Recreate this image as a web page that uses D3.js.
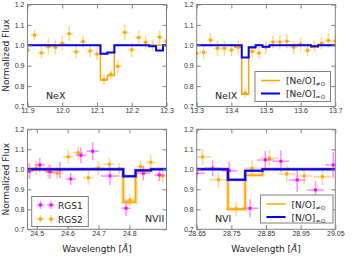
<!DOCTYPE html>
<html>
<head>
<meta charset="utf-8">
<script src="https://cdn.jsdelivr.net/npm/d3@7"></script>
<style>
  body { margin: 0; background: #fff; }
  svg { font-family: "DejaVu Sans", sans-serif; }
</style>
</head>
<body>
<div id="chart"></div>
<script>
var width = 354;
var height = 258;

// ---- data ----
var yTicks = [0.7, 0.8, 0.9, 1.0, 1.1, 1.2];

// Ne X
var neXTicks = [11.9, 12.0, 12.1, 12.2, 12.3];
var neXWave = [11.90, 11.92, 11.94, 11.96, 11.98, 12.00, 12.02, 12.04, 12.06, 12.08, 12.10,
               12.12, 12.14, 12.16, 12.18, 12.20, 12.22, 12.24, 12.26, 12.28, 12.30];
var neXFlux = [0.977, 1.05, 0.963, 0.993, 0.99, 1.01, 1.057, 0.968, 1.018, 0.972, 0.957,
               0.832, 0.858, 0.897, 1.063, 0.978, 1.038, 1.015, 1.0, 1.04, 1.02];
var neXErr = [0.03, 0.025, 0.03, 0.04, 0.035, 0.035, 0.035, 0.03, 0.03, 0.03, 0.03,
              0.025, 0.02, 0.03, 0.04, 0.035, 0.035, 0.035, 0.03, 0.035, 0.035];
var neXEdges = [11.90, 12.11, 12.13, 12.15, 12.25, 12.27, 12.29, 12.30];
var neXModelOff = [1.0, 0.83, 0.852, 1.0, 1.0, 1.0, 1.0];
var neXModelSun = [1.0, 0.958, 0.965, 1.0, 0.995, 0.975, 1.0];

// Ne IX
var neIXTicks = [13.3, 13.4, 13.5, 13.6, 13.7];
var neIXWave = [13.30, 13.32, 13.34, 13.36, 13.38, 13.40, 13.42, 13.44, 13.46, 13.48, 13.50,
                13.52, 13.54, 13.56, 13.58, 13.60, 13.62, 13.64, 13.66, 13.68, 13.70];
var neIXFlux = [0.961, 0.966, 1.026, 0.985, 0.985, 0.977, 0.99, 0.765, 0.97, 0.962, 0.99,
                1.016, 1.016, 1.02, 0.99, 1.005, 0.975, 0.995, 1.01, 1.023, 1.02];
var neIXErr = [0.03, 0.035, 0.035, 0.04, 0.035, 0.03, 0.035, 0.02, 0.03, 0.03, 0.03,
               0.03, 0.035, 0.035, 0.03, 0.035, 0.03, 0.03, 0.03, 0.035, 0.03];
var neIXEdges = [13.30, 13.41, 13.43, 13.45, 13.47, 13.49, 13.51, 13.63, 13.65, 13.70];
var neIXModelOff = [1.0, 0.99, 0.76, 0.985, 1.0, 0.99, 1.0, 0.99, 1.0];
var neIXModelSun = [1.0, 1.0, 0.94, 0.99, 1.0, 0.993, 1.0, 0.995, 1.0];

// N VII
var nVIITicks = [24.5, 24.6, 24.7, 24.8];
var nVIIRgs1Wave = [24.476, 24.51, 24.543, 24.575, 24.61, 24.643, 24.681, 24.737, 24.789, 24.845, 24.897];
var nVIIRgs1Flux = [0.99, 1.022, 0.988, 0.997, 0.952, 1.07, 1.09, 0.967, 0.805, 0.98, 0.972];
var nVIIRgs1XErr = [0.015, 0.017, 0.017, 0.017, 0.017, 0.017, 0.02, 0.03, 0.015, 0.02, 0.017];
var nVIIRgs1Err = [0.04, 0.035, 0.035, 0.04, 0.03, 0.04, 0.045, 0.045, 0.04, 0.035, 0.03];
var nVIIRgs2Wave = [24.498, 24.537, 24.566, 24.602, 24.634, 24.667, 24.699, 24.735, 24.767, 24.802, 24.836, 24.869, 24.908];
var nVIIRgs2Flux = [1.005, 0.99, 0.98, 1.063, 1.083, 0.958, 1.007, 1.025, 1.003, 0.847, 1.013, 1.035, 0.967];
var nVIIRgs2Err = [0.035, 0.035, 0.03, 0.035, 0.035, 0.035, 0.035, 0.035, 0.03, 0.03, 0.03, 0.035, 0.035];
var nVIIEdges = [24.47, 24.78, 24.82, 24.87, 24.92];
var nVIIModelOff = [1.0, 0.835, 0.99, 1.0];
var nVIIModelSun = [1.0, 0.965, 0.995, 1.0];

// N VI
var nVITicks = [28.65, 28.75, 28.85, 28.95, 29.05];
var nVIRgs1Wave = [28.65, 28.696, 28.744, 28.804, 28.848, 28.893, 28.94, 28.993, 29.044];
var nVIRgs1Flux = [0.98, 1.005, 0.993, 0.805, 1.047, 1.04, 0.947, 0.897, 1.022];
var nVIRgs1Err = [0.04, 0.04, 0.045, 0.045, 0.045, 0.055, 0.06, 0.045, 0.065];
var nVIRgs2Wave = [28.667, 28.713, 28.764, 28.81, 28.86, 28.91, 28.96, 29.013];
var nVIRgs2Flux = [1.062, 0.948, 0.802, 1.005, 1.055, 0.977, 0.967, 0.963];
var nVIRgs2Err = [0.04, 0.04, 0.035, 0.04, 0.04, 0.04, 0.04, 0.045];
var nVIEdges = [28.65, 28.74, 28.79, 28.84, 29.05];
var nVIModelOff = [1.0, 0.80, 0.97, 1.0];
var nVIModelSun = [1.0, 0.948, 0.993, 1.0];

var orange = '#ffa500';
var magenta = '#ff00ff';
var blue = '#0000ff';

function pts(w, f, xe, ye) {
    return w.map(function (d, i) {
        return { x: d, y: f[i], xe: Array.isArray(xe) ? xe[i] : xe, ye: ye[i] };
    });
}

var panels = [
    { left: 27.5, top: 4.5, w: 139, h: 102, domain: [11.9, 12.3], ticks: neXTicks, fmt: '.1f',
      label: 'NeX', labelX: 46, labelY: 99,
      series: [{ color: orange, data: pts(neXWave, neXFlux, 0.01, neXErr) }],
      edges: neXEdges, off: neXModelOff, sun: neXModelSun, halo: false },
    { left: 196.7, top: 4.5, w: 138.6, h: 102, domain: [13.3, 13.7], ticks: neIXTicks, fmt: '.1f',
      label: 'NeIX', labelX: 215, labelY: 99,
      series: [{ color: orange, data: pts(neIXWave, neIXFlux, 0.01, neIXErr) }],
      edges: neIXEdges, off: neIXModelOff, sun: neIXModelSun, halo: false },
    { left: 27.5, top: 129.3, w: 139, h: 100, domain: [24.47, 24.92], ticks: nVIITicks, fmt: '.1f',
      label: 'NVII', labelX: 145, labelY: 222,
      series: [{ color: orange, data: pts(nVIIRgs2Wave, nVIIRgs2Flux, 0.017, nVIIRgs2Err) },
               { color: magenta, data: pts(nVIIRgs1Wave, nVIIRgs1Flux, nVIIRgs1XErr, nVIIRgs1Err) }],
      edges: nVIIEdges, off: nVIIModelOff, sun: nVIIModelSun, halo: true },
    { left: 196.7, top: 129.3, w: 138.6, h: 100, domain: [28.65, 29.05], ticks: nVITicks, fmt: '.2f',
      label: 'NVI', labelX: 215, labelY: 222,
      series: [{ color: orange, data: pts(nVIRgs2Wave, nVIRgs2Flux, 0.025, nVIRgs2Err) },
               { color: magenta, data: pts(nVIRgs1Wave, nVIRgs1Flux, 0.024, nVIRgs1Err) }],
      edges: nVIEdges, off: nVIModelOff, sun: nVIModelSun, halo: true }
];

var svg = d3.select('#chart').append('svg')
    .attr('width', width)
    .attr('height', height);

panels.forEach(function (p, pi) {
    var xScale = d3.scaleLinear().domain(p.domain).range([p.left, p.left + p.w]);
    var yScale = d3.scaleLinear().domain([0.7, 1.2]).range([p.top + p.h, p.top]);

    var clipId = 'clip' + pi;
    svg.append('clipPath').attr('id', clipId)
        .append('rect')
        .attr('x', p.left).attr('y', p.top).attr('width', p.w).attr('height', p.h);

    var plot = svg.append('g').attr('clip-path', 'url(#' + clipId + ')');

    // error bars + points
    p.series.forEach(function (s) {
        var g = plot.append('g');
        var pt = g.selectAll('.pt').data(s.data).enter().append('g');
        pt.append('line')
            .attr('x1', d => xScale(d.x - d.xe)).attr('x2', d => xScale(d.x + d.xe))
            .attr('y1', d => yScale(d.y)).attr('y2', d => yScale(d.y))
            .attr('stroke', s.color).attr('stroke-opacity', 0.45).attr('stroke-width', 1.5);
        pt.append('line')
            .attr('x1', d => xScale(d.x)).attr('x2', d => xScale(d.x))
            .attr('y1', d => yScale(d.y - d.ye)).attr('y2', d => yScale(d.y + d.ye))
            .attr('stroke', s.color).attr('stroke-opacity', 0.45).attr('stroke-width', 1.5);
        pt.append('rect')
            .attr('x', d => xScale(d.x) - 1.5).attr('y', d => yScale(d.y) - 1.5)
            .attr('width', 3).attr('height', 3)
            .attr('fill', s.color);
    });

    // model steps
    var line = d3.line()
        .x(d => xScale(d[0]))
        .y(d => yScale(d[1]))
        .curve(d3.curveStepAfter);
    var offPts = p.off.map((v, i) => [p.edges[i], v]);
    offPts.push([p.edges[p.edges.length - 1], p.off[p.off.length - 1]]);
    var sunPts = p.sun.map((v, i) => [p.edges[i], v]);
    sunPts.push([p.edges[p.edges.length - 1], p.sun[p.sun.length - 1]]);

    if (p.halo) {
        plot.append('path').attr('d', line(offPts))
            .attr('fill', 'none').attr('stroke', orange)
            .attr('stroke-opacity', 0.35).attr('stroke-width', 4);
    }
    plot.append('path').attr('d', line(offPts))
        .attr('fill', 'none').attr('stroke', orange).attr('stroke-width', 1.5);
    if (p.halo) {
        plot.append('path').attr('d', line(sunPts))
            .attr('fill', 'none').attr('stroke', blue)
            .attr('stroke-opacity', 0.35).attr('stroke-width', 3);
    }
    plot.append('path').attr('d', line(sunPts))
        .attr('fill', 'none').attr('stroke', blue).attr('stroke-width', 2);

    // frame
    svg.append('rect')
        .attr('x', p.left).attr('y', p.top).attr('width', p.w).attr('height', p.h)
        .attr('fill', 'none').attr('stroke', '#808080').attr('stroke-width', 1);

    // axes, ticks pointing in
    var xAxis = d3.axisBottom(xScale).tickValues(p.ticks).tickFormat(d3.format(p.fmt))
        .tickSizeInner(-4).tickSizeOuter(0).tickPadding(2);
    var gx = svg.append('g').attr('transform', 'translate(0,' + (p.top + p.h) + ')').call(xAxis);
    var xTop = d3.axisTop(xScale).tickValues(p.ticks).tickFormat('')
        .tickSizeInner(-4).tickSizeOuter(0);
    var gxt = svg.append('g').attr('transform', 'translate(0,' + p.top + ')').call(xTop);

    var yAxis = d3.axisLeft(yScale).tickValues(yTicks).tickFormat(d3.format('.1f'))
        .tickSizeInner(-4).tickSizeOuter(0).tickPadding(3);
    var gy = svg.append('g').attr('transform', 'translate(' + p.left + ',0)').call(yAxis);
    var yRight = d3.axisRight(yScale).tickValues(yTicks).tickFormat('')
        .tickSizeInner(-4).tickSizeOuter(0);
    var gyr = svg.append('g').attr('transform', 'translate(' + (p.left + p.w) + ',0)').call(yRight);

    [gx, gxt, gy, gyr].forEach(function (g) {
        g.select('.domain').remove();
        g.selectAll('.tick line').attr('stroke', '#808080');
        g.selectAll('.tick text').attr('fill', '#333').style('font-size', '7px');
    });

    svg.append('text')
        .attr('x', p.labelX).attr('y', p.labelY)
        .attr('fill', '#222').style('font-size', '9.5px')
        .text(p.label);

    if (pi % 2 === 0) {
        svg.append('text')
            .attr('transform', 'translate(9,' + (p.top + p.h / 2) + ') rotate(-90)')
            .attr('text-anchor', 'middle')
            .attr('fill', '#222').style('font-size', '9px')
            .text('Normalized Flux');
    }
    if (pi >= 2) {
        var wl = svg.append('text')
            .attr('x', p.left + p.w / 2).attr('y', 252)
            .attr('text-anchor', 'middle')
            .attr('fill', '#222').style('font-size', '9px');
        wl.append('tspan').text('Wavelength [');
        wl.append('tspan').style('font-style', 'italic').text('Å');
        wl.append('tspan').text(']');
    }
});

// model legends (top right and bottom right)
function modelLegend(x, y, w, h, element) {
    var g = svg.append('g');
    g.append('rect').attr('x', x).attr('y', y).attr('width', w).attr('height', h)
        .attr('fill', '#fff').attr('stroke', '#808080');
    var rows = [{ c: orange, sw: 1.5, sub: '\u2260\u2299' }, { c: blue, sw: 2, sub: '=\u2299' }];
    rows.forEach(function (r, i) {
        var cy = y + 9 + i * 13;
        g.append('line').attr('x1', x + 6).attr('x2', x + 25).attr('y1', cy).attr('y2', cy)
            .attr('stroke', r.c).attr('stroke-width', r.sw);
        var t = g.append('text').attr('x', x + 31).attr('y', cy + 3.5)
            .attr('fill', '#222').style('font-size', '9px');
        t.append('tspan').text('[' + element + '/O]');
        t.append('tspan').attr('dy', 2).style('font-size', '6px').text(r.sub);
    });
}
modelLegend(255, 71.5, 75.5, 30, 'Ne');
modelLegend(260.5, 195, 72.5, 28, 'N');

// detector legend (bottom left)
var lg = svg.append('g');
lg.append('rect').attr('x', 31.7).attr('y', 196.5).attr('width', 56.6).attr('height', 30)
    .attr('fill', '#fff').attr('stroke', '#808080');
var detRows = [{ c: magenta, name: 'RGS1' }, { c: orange, name: 'RGS2' }];
detRows.forEach(function (r, i) {
    var cy = 205 + i * 14;
    [40.5, 51].forEach(function (cx) {
        lg.append('line').attr('x1', cx - 4).attr('x2', cx + 4).attr('y1', cy).attr('y2', cy)
            .attr('stroke', r.c).attr('stroke-opacity', 0.45).attr('stroke-width', 1.5);
        lg.append('line').attr('x1', cx).attr('x2', cx).attr('y1', cy - 4).attr('y2', cy + 4)
            .attr('stroke', r.c).attr('stroke-opacity', 0.45).attr('stroke-width', 1.5);
        lg.append('rect').attr('x', cx - 1.5).attr('y', cy - 1.5).attr('width', 3).attr('height', 3)
            .attr('fill', r.c);
    });
    lg.append('text').attr('x', 58).attr('y', cy + 3.5)
        .attr('fill', '#222').style('font-size', '9px').text(r.name);
});
</script>
</body>
</html>
